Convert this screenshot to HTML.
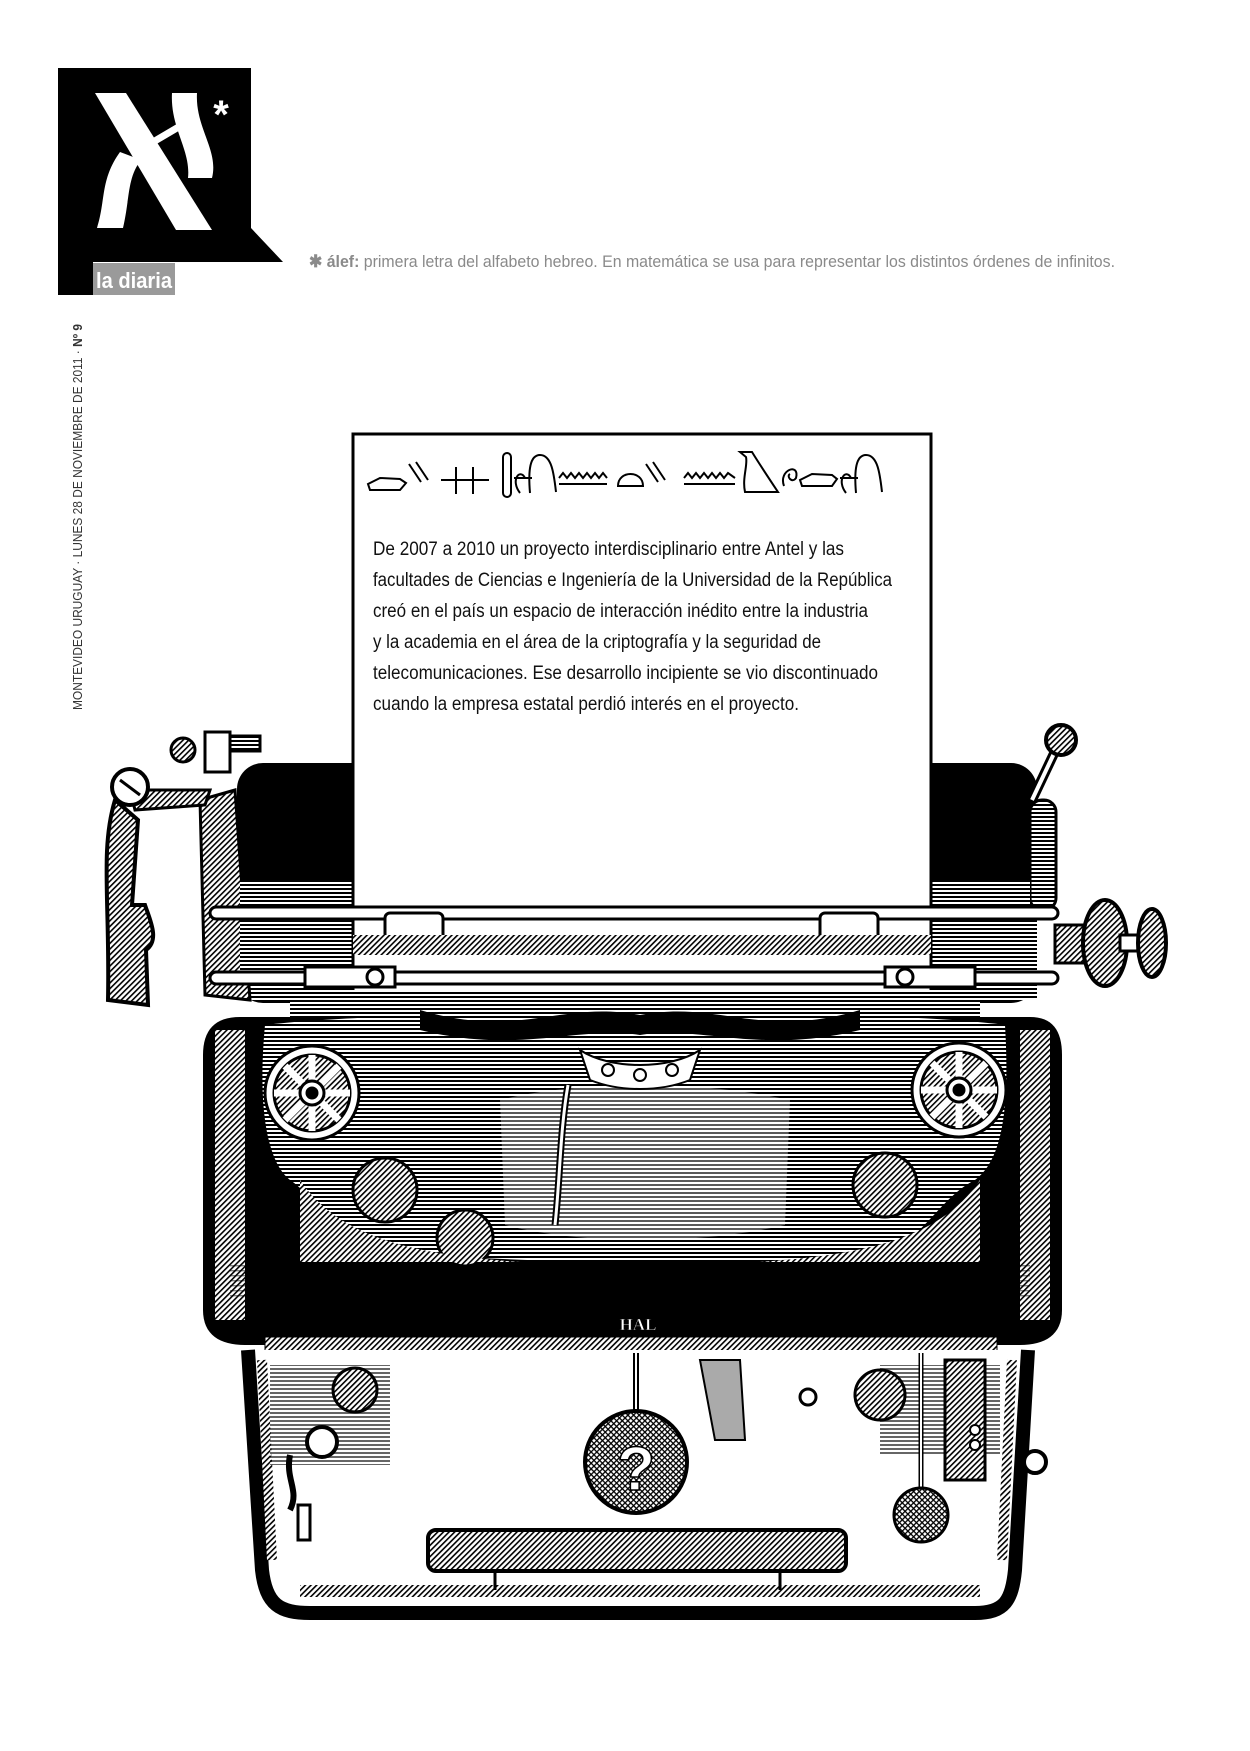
<!DOCTYPE html>
<html><head><meta charset="utf-8"><style>
html,body{margin:0;padding:0;background:#fff;}
svg{display:block;}
</style></head><body>
<svg width="1250" height="1751" viewBox="0 0 1250 1751" xmlns="http://www.w3.org/2000/svg">
<defs>
<pattern id="h" width="4" height="4" patternUnits="userSpaceOnUse"><rect width="4" height="4" fill="#fff"/><rect width="4" height="2" fill="#000"/></pattern>
<pattern id="hl" width="5" height="5" patternUnits="userSpaceOnUse"><rect width="5" height="1.4" fill="#000"/></pattern>
<pattern id="d" width="4" height="4" patternUnits="userSpaceOnUse" patternTransform="rotate(45)"><rect width="4" height="4" fill="#fff"/><rect width="1.6" height="4" fill="#000"/></pattern>
<pattern id="x" width="4" height="4" patternUnits="userSpaceOnUse" patternTransform="rotate(45)"><rect width="4" height="4" fill="#fff"/><rect width="1.3" height="4" fill="#000"/><rect width="4" height="1.3" fill="#000"/></pattern>
</defs>

<!-- LOGO -->
<path d="M58,68 H251 V228 L283,262 H93 V295 H58 Z" fill="#000"/>
<rect x="93" y="263" width="82" height="32" fill="#9a9a9a"/>
<text x="134" y="288" font-family="Liberation Sans Narrow, Liberation Sans, sans-serif" font-weight="bold" font-size="22" fill="#fff" text-anchor="middle" textLength="76" lengthAdjust="spacingAndGlyphs">la diaria</text>
<polygon points="95,93 126,93 212,230 176,230" fill="#fff"/>
<path d="M120,152 L141,160 C127,178 130,198 123,228 L97,228 C106,200 100,180 120,152Z" fill="#fff"/>
<path d="M172,93 L197,93 C195,128 219,150 212,178 L188,178 C191,150 170,128 172,93Z" fill="#fff"/>
<line x1="148" y1="145" x2="182" y2="125" stroke="#fff" stroke-width="7"/>
<text x="221" y="128" font-family="Liberation Sans, sans-serif" font-weight="bold" font-size="40" fill="#fff" text-anchor="middle">*</text>

<!-- footnote -->
<text x="309" y="267" font-family="Liberation Sans Narrow, Liberation Sans, sans-serif" font-size="17" fill="#8a8a8a" textLength="806" lengthAdjust="spacingAndGlyphs"><tspan font-weight="bold">✱ álef:</tspan> primera letra del alfabeto hebreo.  En matemática se usa para representar los distintos órdenes de infinitos.</text>

<!-- vertical -->
<text transform="translate(82,710) rotate(-90)" font-family="Liberation Sans, sans-serif" font-size="12.5" fill="#333" textLength="386" lengthAdjust="spacingAndGlyphs">MONTEVIDEO URUGUAY · LUNES 28 DE NOVIEMBRE DE 2011 · <tspan font-weight="bold">Nº 9</tspan></text>

<!-- TYPEWRITER: top carriage -->
<rect x="237" y="763" width="800" height="240" rx="26" fill="#000"/>
<rect x="237" y="900" width="800" height="100" fill="url(#h)"/>
<!-- left crank -->
<path d="M200,800 L235,790 L250,1000 L205,995 Z" fill="url(#d)" stroke="#000" stroke-width="3"/>
<path d="M115,800 C100,850 110,900 108,1000 L148,1005 L146,950 C160,940 150,920 145,905 L132,905 L138,820 Z" fill="url(#d)" stroke="#000" stroke-width="4"/>
<path d="M130,790 L210,790 L205,805 L135,810Z" fill="url(#d)" stroke="#000" stroke-width="3"/>
<circle cx="130" cy="787" r="18" fill="#fff" stroke="#000" stroke-width="4"/>
<line x1="120" y1="780" x2="140" y2="795" stroke="#000" stroke-width="3"/>
<circle cx="183" cy="750" r="12" fill="url(#d)" stroke="#000" stroke-width="3"/>
<rect x="205" y="732" width="25" height="40" fill="#fff" stroke="#000" stroke-width="3"/>
<rect x="230" y="736" width="30" height="15" fill="url(#h)" stroke="#000" stroke-width="3"/>
<!-- right lever & knobs -->
<line x1="1032" y1="800" x2="1058" y2="745" stroke="#000" stroke-width="10"/>
<line x1="1032" y1="800" x2="1058" y2="745" stroke="#fff" stroke-width="4"/>
<circle cx="1061" cy="740" r="15" fill="url(#d)" stroke="#000" stroke-width="4"/>
<rect x="1030" y="800" width="26" height="110" rx="12" fill="url(#h)" stroke="#000" stroke-width="3"/>
<rect x="1055" y="925" width="45" height="38" fill="url(#d)" stroke="#000" stroke-width="3"/>
<ellipse cx="1105" cy="943" rx="22" ry="43" fill="url(#d)" stroke="#000" stroke-width="4"/>
<rect x="1120" y="935" width="25" height="16" fill="#fff" stroke="#000" stroke-width="3"/>
<ellipse cx="1152" cy="943" rx="14" ry="34" fill="url(#d)" stroke="#000" stroke-width="4"/>
<!-- platen -->
<rect x="240" y="880" width="790" height="95" fill="url(#h)"/>

<!-- PAPER -->
<rect x="353" y="434" width="578" height="600" fill="#fff" stroke="#000" stroke-width="3"/>
<!-- hieroglyphs -->
<g fill="none" stroke="#000" stroke-width="2">
<path d="M368,484 L380,478 L400,479 L406,483 L400,490 L370,490 Z"/>
<path d="M409,464 L421,482 M416,462 L428,480"/>
<path d="M441,480 H489 M456,467 V494 M473,467 V494"/>
<rect x="503" y="453" width="8" height="44" rx="4"/>
<path d="M520,493 C510,480 520,468 525,478 M530,493 C528,470 530,455 540,455 C552,455 554,475 556,492 M514,478 H532"/>
<path d="M559,478 L563,473 L567,478 L571,473 L575,478 L579,473 L583,478 L587,473 L591,478 L595,473 L599,478 L603,473 L607,478 M559,484 H607"/>
<path d="M618,486 C618,470 643,470 643,486 Z"/>
<path d="M646,464 L658,482 M653,462 L665,480"/>
<path d="M684,478 L688,473 L692,478 L696,473 L700,478 L704,473 L708,478 L712,473 L716,478 L720,473 L724,478 L728,473 L735,478 M684,484 H735"/>
<path d="M740,452 L752,452 C760,465 770,480 778,492 L745,492 C742,478 748,465 746,457 Z"/>
<path d="M784,486 C778,470 800,462 796,478 C792,484 786,476 790,474"/>
<path d="M800,480 L812,474 L832,475 L837,479 L832,486 L802,486 Z"/>
<path d="M846,493 C836,480 846,468 851,478 M856,493 C854,470 856,455 866,455 C878,455 880,475 882,492 M840,478 H858"/>
</g>
<g font-family="Liberation Sans Narrow, Liberation Sans, sans-serif" font-size="19" fill="#111">
<text x="373" y="555" textLength="471" lengthAdjust="spacingAndGlyphs">De 2007 a 2010 un proyecto interdisciplinario entre Antel y las</text>
<text x="373" y="586" textLength="519" lengthAdjust="spacingAndGlyphs">facultades de Ciencias e Ingeniería de la Universidad de la República</text>
<text x="373" y="617" textLength="495" lengthAdjust="spacingAndGlyphs">creó en el país un espacio de interacción inédito entre la industria</text>
<text x="373" y="648" textLength="448" lengthAdjust="spacingAndGlyphs">y la academia en el área de la criptografía y la seguridad de</text>
<text x="373" y="679" textLength="505" lengthAdjust="spacingAndGlyphs">telecomunicaciones. Ese desarrollo incipiente se vio discontinuado</text>
<text x="373" y="710" textLength="426" lengthAdjust="spacingAndGlyphs">cuando la empresa estatal perdió interés en el proyecto.</text>
</g>

<!-- rods and clips -->
<rect x="210" y="907" width="848" height="12" rx="6" fill="#fff" stroke="#000" stroke-width="3"/>
<rect x="385" y="913" width="58" height="30" rx="5" fill="#fff" stroke="#000" stroke-width="3"/>
<rect x="820" y="913" width="58" height="30" rx="5" fill="#fff" stroke="#000" stroke-width="3"/>
<rect x="353" y="935" width="578" height="20" fill="url(#d)"/>
<rect x="210" y="972" width="848" height="12" rx="6" fill="#fff" stroke="#000" stroke-width="3"/>
<rect x="305" y="967" width="90" height="20" fill="#fff" stroke="#000" stroke-width="3"/>
<circle cx="375" cy="977" r="8" fill="#fff" stroke="#000" stroke-width="3"/>
<rect x="885" y="967" width="90" height="20" fill="#fff" stroke="#000" stroke-width="3"/>
<circle cx="905" cy="977" r="8" fill="#fff" stroke="#000" stroke-width="3"/>
<rect x="290" y="990" width="690" height="30" fill="url(#h)"/>

<!-- MAIN BODY -->
<path d="M203,1055 C203,1030 215,1017 240,1017 L1030,1017 C1052,1017 1062,1030 1062,1055 L1062,1310 C1062,1335 1045,1345 1020,1345 L245,1345 C220,1345 203,1335 203,1310 Z" fill="#000"/>
<rect x="215" y="1030" width="30" height="290" fill="url(#d)"/>
<rect x="1020" y="1030" width="30" height="290" fill="url(#d)"/>
<rect x="230" y="1265" width="800" height="35" fill="url(#hl)" opacity="0.5"/>
<!-- bowl -->
<path d="M265,1025 C400,1008 880,1008 1005,1025 C1010,1110 1002,1160 975,1180 C935,1200 920,1250 870,1255 C760,1265 500,1265 380,1250 C330,1240 320,1200 290,1180 C265,1160 258,1100 265,1025 Z" fill="url(#h)"/>
<path d="M500,1100 C580,1080 700,1080 790,1100 L785,1225 C700,1245 580,1245 505,1225 Z" fill="#fff" opacity="0.35"/>
<path d="M420,1010 C520,1040 560,1000 640,1015 C720,1000 760,1040 860,1010 L860,1030 C760,1055 700,1025 640,1035 C580,1025 520,1055 420,1030Z" fill="#000"/>
<path d="M580,1050 C610,1070 670,1070 700,1050 L690,1080 C660,1092 620,1092 590,1080 Z" fill="#fff" stroke="#000" stroke-width="2"/>
<circle cx="608" cy="1070" r="6" fill="#fff" stroke="#000" stroke-width="2"/>
<circle cx="640" cy="1075" r="6" fill="#fff" stroke="#000" stroke-width="2"/>
<circle cx="672" cy="1070" r="6" fill="#fff" stroke="#000" stroke-width="2"/>
<path d="M568,1085 C560,1130 560,1180 555,1225" stroke="#000" stroke-width="7" fill="none"/>
<path d="M568,1085 C560,1130 560,1180 555,1225" stroke="#fff" stroke-width="3" fill="none"/>
<!-- wheels -->
<g stroke="#000" stroke-width="3">
<circle cx="312" cy="1093" r="47" fill="#fff"/>
<circle cx="312" cy="1093" r="38" fill="url(#d)"/>
<path d="M312,1055 V1131 M274,1093 H350 M285,1066 L339,1120 M339,1066 L285,1120" stroke="#fff" stroke-width="7"/>
<circle cx="312" cy="1093" r="12" fill="#fff"/>
<circle cx="312" cy="1093" r="5" fill="#000"/>
<circle cx="959" cy="1090" r="47" fill="#fff"/>
<circle cx="959" cy="1090" r="38" fill="url(#d)"/>
<path d="M959,1052 V1128 M921,1090 H997 M932,1063 L986,1117 M986,1063 L932,1117" stroke="#fff" stroke-width="7"/>
<circle cx="959" cy="1090" r="12" fill="#fff"/>
<circle cx="959" cy="1090" r="5" fill="#000"/>
<circle cx="385" cy="1190" r="32" fill="url(#d)"/>
<circle cx="465" cy="1238" r="28" fill="url(#d)"/>
<circle cx="885" cy="1185" r="32" fill="url(#d)"/>
</g>
<path d="M300,1180 C340,1240 420,1255 520,1262 L300,1262 Z" fill="url(#d)"/>
<path d="M980,1180 C940,1240 860,1255 760,1262 L980,1262 Z" fill="url(#d)"/>
<text x="638" y="1330" font-family="Liberation Serif, serif" font-weight="bold" font-size="17" fill="#fff" text-anchor="middle" stroke="#000" stroke-width="0.6">HAL</text>
<rect x="265" y="1337" width="732" height="16" fill="url(#d)" stroke="#000" stroke-width="1"/>

<!-- LOWER BODY -->
<path d="M248,1350 L262,1570 C266,1605 280,1613 310,1613 L975,1613 C1005,1613 1012,1600 1015,1570 L1028,1350" fill="#fff" stroke="#000" stroke-width="14"/>
<path d="M262,1360 L272,1560" stroke="url(#d)" stroke-width="10"/>
<path d="M1012,1360 L1002,1560" stroke="url(#d)" stroke-width="10"/>
<rect x="300" y="1585" width="680" height="12" fill="url(#d)"/>
<rect x="270" y="1365" width="120" height="100" fill="url(#h)" opacity="0.6"/>
<rect x="880" y="1365" width="120" height="90" fill="url(#h)" opacity="0.6"/>
<circle cx="322" cy="1442" r="15" fill="#fff" stroke="#000" stroke-width="4"/>
<circle cx="355" cy="1390" r="22" fill="url(#d)" stroke="#000" stroke-width="3"/>
<circle cx="880" cy="1395" r="25" fill="url(#d)" stroke="#000" stroke-width="3"/>
<path d="M290,1455 C285,1480 300,1490 290,1510" stroke="#000" stroke-width="6" fill="none"/>
<rect x="298" y="1505" width="12" height="35" fill="#fff" stroke="#000" stroke-width="3"/>
<rect x="945" y="1360" width="40" height="120" fill="url(#d)" stroke="#000" stroke-width="3"/>
<circle cx="975" cy="1430" r="5" fill="#fff" stroke="#000" stroke-width="2"/>
<circle cx="975" cy="1445" r="5" fill="#fff" stroke="#000" stroke-width="2"/>
<circle cx="1035" cy="1462" r="11" fill="#fff" stroke="#000" stroke-width="4"/>
<path d="M700,1360 L740,1360 L745,1440 L715,1440 Z" fill="#aaa" stroke="#000" stroke-width="2"/>
<circle cx="808" cy="1397" r="8" fill="#fff" stroke="#000" stroke-width="3"/>
<!-- pendulums -->
<line x1="636" y1="1353" x2="636" y2="1412" stroke="#000" stroke-width="6"/>
<line x1="636" y1="1353" x2="636" y2="1412" stroke="#fff" stroke-width="2"/>
<circle cx="636" cy="1462" r="51" fill="url(#x)" stroke="#000" stroke-width="4"/>
<text x="636" y="1490" font-family="Liberation Sans, sans-serif" font-weight="bold" font-size="62" fill="#fff" stroke="#000" stroke-width="1.5" text-anchor="middle">?</text>
<line x1="921" y1="1353" x2="921" y2="1488" stroke="#000" stroke-width="5"/>
<line x1="921" y1="1353" x2="921" y2="1488" stroke="#fff" stroke-width="2"/>
<circle cx="921" cy="1515" r="27" fill="url(#x)" stroke="#000" stroke-width="3"/>
<!-- space bar -->
<rect x="428" y="1530" width="418" height="41" rx="8" fill="url(#d)" stroke="#000" stroke-width="4"/>
<line x1="495" y1="1571" x2="495" y2="1590" stroke="#000" stroke-width="3"/>
<line x1="780" y1="1571" x2="780" y2="1590" stroke="#000" stroke-width="3"/>
</svg>
</body></html>
